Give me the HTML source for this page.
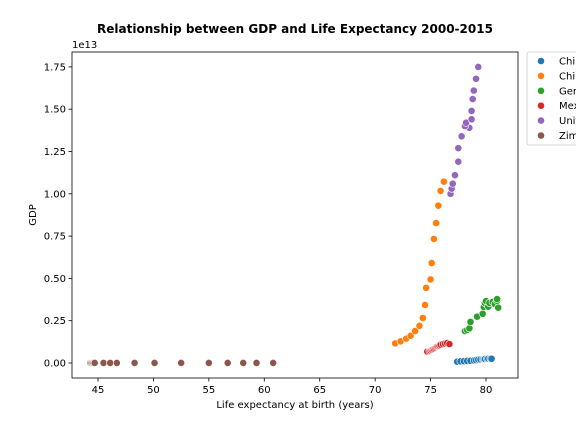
<!DOCTYPE html>
<html><head><meta charset="utf-8"><style>
html,body{margin:0;padding:0;background:#fff;width:576px;height:432px;overflow:hidden}
svg text{font-family:"DejaVu Sans","Liberation Sans",sans-serif;fill:#000}
</style></head><body>
<svg id="chart" width="576" height="432" xmlns="http://www.w3.org/2000/svg">
<text x="295" y="33" text-anchor="middle" font-size="12" font-weight="bold">Relationship between GDP and Life Expectancy 2000-2015</text>
<rect x="72" y="52" width="446" height="326" fill="none" stroke="#000" stroke-width="0.8"/>
<g id="xt"></g><g id="yt"></g><g id="pts"></g>
<text x="72" y="48" font-size="10">1e13</text>
<text x="295" y="408" text-anchor="middle" font-size="10">Life expectancy at birth (years)</text>
<text x="36" y="215" text-anchor="middle" font-size="10" transform="rotate(-90 36 215)">GDP</text>
<g>
<rect x="527" y="52" width="60" height="93" rx="2" fill="#fff" stroke="#ccc" stroke-width="0.8"/>
<g id="leg"></g></g>
</svg>
<script>
const countries=["Chile","China","Germany","Mexico","United States of America","Zimbabwe"];
const colors=["#1f77b4","#ff7f0e","#2ca02c","#d62728","#9467bd","#8c564b"];
const xTicks=[45,50,55,60,65,70,75,80];
const yTicks=[0,0.25,0.5,0.75,1.0,1.25,1.5,1.75];
const chileLife=[77.4,77.7,78.0,78.3,78.6,78.9,79.1,79.3,79.5,79.7,79.8,79.9,80.1,80.2,80.4,80.5];
const chileGdp=[.008,.01,.011,.012,.013,.015,.017,.02,.021,.023,.023,.024,.025,.026,.027,.025];
const chinaLife=[71.8,72.3,72.8,73.2,73.6,74.0,74.3,74.5,74.6,75.0,75.1,75.3,75.5,75.7,75.9,76.2];
const chinaGdp=[.116,.128,.144,.161,.189,.22,.266,.343,.444,.494,.591,.733,.827,.93,1.017,1.072];
const germanyLife=[78.1,78.3,78.5,78.6,79.2,79.7,79.8,79.9,80.2,80.0,80.3,80.6,80.8,81.0,81.0,81.1];
const germanyGdp=[.189,.195,.205,.243,.274,.291,.331,.354,.333,.366,.355,.361,.349,.367,.378,.327];
const mexicoLife=[74.7,74.9,75.0,75.1,75.2,75.3,75.4,75.5,75.6,75.7,75.8,75.9,76.1,76.3,76.5,76.7];
const mexicoGdp=[.068,.071,.074,.078,.081,.085,.09,.095,.098,.1,.103,.108,.112,.115,.118,.112];
const usaLife=[76.8,76.9,77.0,77.2,77.5,77.5,77.8,78.5,78.1,78.2,78.7,78.7,78.8,78.9,79.1,79.3];
const usaGdp=[1.0,1.03,1.06,1.11,1.19,1.27,1.34,1.39,1.4,1.42,1.44,1.49,1.56,1.61,1.68,1.75];
const zimLife=[44.3,44.4,44.5,44.6,44.7,45.5,46.1,46.7,48.3,50.1,52.5,55.0,56.7,58.1,59.3,60.8];
const zimGdp=[.0006,.0006,.0006,.0006,.0006,.0006,.0006,.0006,.0006,.0006,.0006,.0006,.0006,.0006,.0006,.0006];
const series=[[chileLife,chileGdp],[chinaLife,chinaGdp],[germanyLife,germanyGdp],[mexicoLife,mexicoGdp],[usaLife,usaGdp],[zimLife,zimGdp]];
const NS="http://www.w3.org/2000/svg";
const X=v=>98+(v-45)*11.086, Y=g=>363-g*169.2;
function mk(t,a,p){const e=document.createElementNS(NS,t);for(const k in a)e.setAttribute(k,a[k]);p.appendChild(e);return e;}
const xt=document.getElementById('xt'),yt=document.getElementById('yt'),pts=document.getElementById('pts'),leg=document.getElementById('leg');
xTicks.forEach(v=>{const g=mk('g',{},xt);


mk('line',{x1:X(v),x2:X(v),y1:378,y2:381.5,stroke:'#000','stroke-width':0.8},g);
const t=mk('text',{x:X(v),y:393,'text-anchor':'middle','font-size':10},g);t.textContent=v;});
yTicks.forEach(v=>{const g=mk('g',{},yt);


mk('line',{x1:68.5,x2:72,y1:Y(v),y2:Y(v),stroke:'#000','stroke-width':0.8},g);
const t=mk('text',{x:66,y:Y(v)+3.5,'text-anchor':'end','font-size':10},g);t.textContent=v.toFixed(2);});
series.forEach((s,i)=>{const g=mk('g',{},pts);


s[0].forEach((v,j)=>{const c=mk('circle',{cx:X(v),cy:Y(s[1][j]),r:3.6,fill:colors[i],stroke:'#fff','stroke-width':0.6},g);

});
const lg=mk('g',{},leg);


mk('circle',{cx:541,cy:61+i*14.9,r:3.6,fill:colors[i],stroke:'#fff','stroke-width':0.6},lg);
const t=mk('text',{x:559,y:64.5+i*14.9,'font-size':10},lg);t.textContent=countries[i];});
</script>
</body></html>
